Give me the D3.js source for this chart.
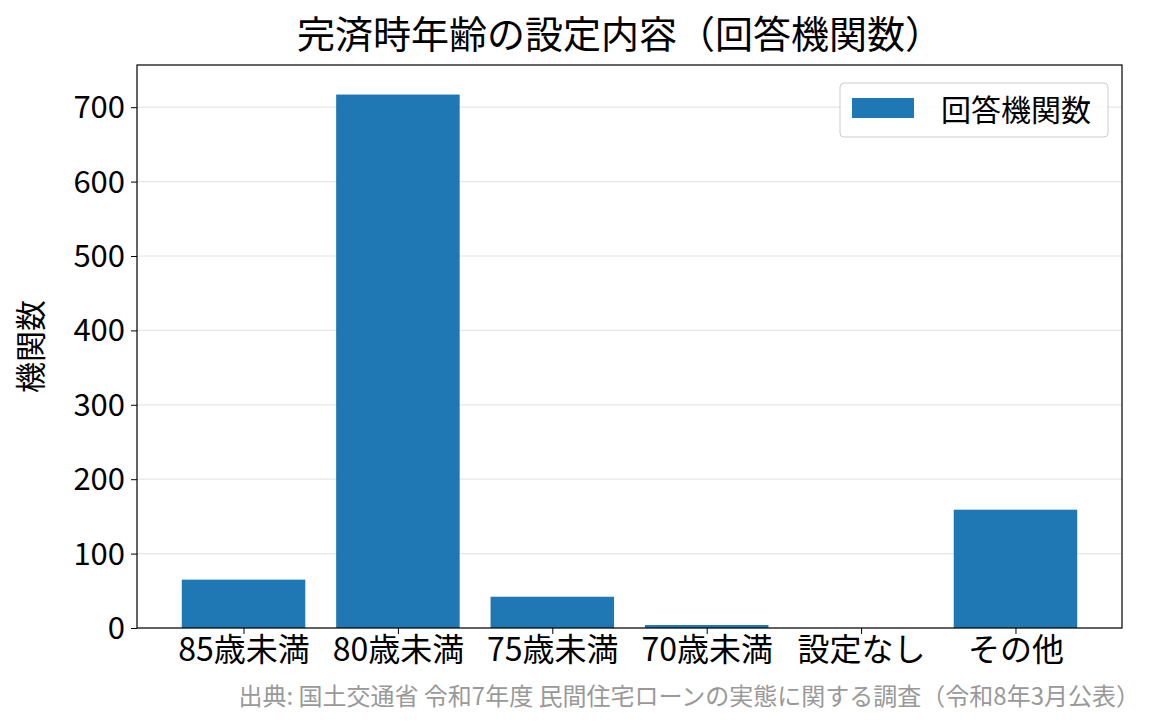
<!DOCTYPE html>
<html><head><meta charset="utf-8">
<script src="https://cdn.jsdelivr.net/npm/d3@7"></script>
<style>body{margin:0;background:#fff}text{font-family:"Noto Sans CJK JP",sans-serif}</style>
</head><body>
<svg id="c" width="1165" height="725"></svg>
<script>
var categories = ["85歳未満", "80歳未満", "75歳未満", "70歳未満", "設定なし", "その他"];
var counts = [65, 717, 42, 4, 0, 159];
var yTicks = [0, 100, 200, 300, 400, 500, 600, 700];

var svg = d3.select("#c");
var pl = 137, pr = 1122, pt = 65, pb = 628;

// matplotlib-like margins around bar positions
var x = d3.scaleLinear().domain([-0.69, 5.69]).range([pl, pr]);
var y = d3.scaleLinear().domain([0, 756.7]).range([pb, pt]);
var bw = x(0.8) - x(0);

svg.append("g").selectAll("line").data(yTicks).enter().append("line")
    .attr("x1", pl).attr("x2", pr)
    .attr("y1", function(d){ return y(d); }).attr("y2", function(d){ return y(d); })
    .attr("stroke", "#e6e6e6").attr("stroke-width", 1.2);

svg.append("g").selectAll("rect").data(counts).enter().append("rect")
    .attr("x", function(d, i){ return x(i) - bw / 2; })
    .attr("width", bw)
    .attr("y", function(d){ return y(d); })
    .attr("height", function(d){ return pb - y(d); })
    .attr("fill", "#1f77b4");

svg.append("rect").attr("x", pl).attr("y", pt).attr("width", pr - pl).attr("height", pb - pt)
    .attr("fill", "none").attr("stroke", "#000").attr("stroke-width", 1.2);

var ya = svg.append("g").attr("transform", "translate(" + pl + ",0)")
    .call(d3.axisLeft(y).tickValues(yTicks).tickSize(6).tickPadding(6));
ya.select(".domain").remove();
ya.selectAll("text").attr("font-size", 31).attr("fill", "#000").attr("font-family", "Noto Sans CJK JP").attr("dy", "0.34em");

var xa = svg.append("g").attr("transform", "translate(0," + pb + ")")
    .call(d3.axisBottom(x).tickValues(d3.range(categories.length)).tickFormat(function(i){ return categories[i]; }).tickSize(6).tickPadding(4));
xa.select(".domain").remove();
xa.selectAll("text").attr("font-size", 32).attr("fill", "#000").attr("font-family", "Noto Sans CJK JP");

svg.append("text").attr("x", 620).attr("y", 48).attr("text-anchor", "middle")
    .attr("font-size", 38).text("完済時年齢の設定内容（回答機関数）");

svg.append("text").attr("transform", "translate(42," + ((pt + pb) / 2) + ") rotate(-90)")
    .attr("text-anchor", "middle").attr("font-size", 31).text("機関数");

// legend
var lg = svg.append("g");
lg.append("rect").attr("x", 840).attr("y", 83).attr("width", 268).attr("height", 54).attr("rx", 4)
    .attr("fill", "#fff").attr("fill-opacity", 0.8).attr("stroke", "#ccc");
lg.append("rect").attr("x", 852).attr("y", 98).attr("width", 62).attr("height", 20).attr("fill", "#1f77b4");
lg.append("text").attr("x", 941).attr("y", 121).attr("font-size", 30).text("回答機関数");

svg.append("text").attr("x", 1140).attr("y", 705).attr("text-anchor", "end")
    .attr("font-size", 24).attr("fill", "#999")
    .text("出典: 国土交通省 令和7年度 民間住宅ローンの実態に関する調査（令和8年3月公表）");
</script>
</body></html>
